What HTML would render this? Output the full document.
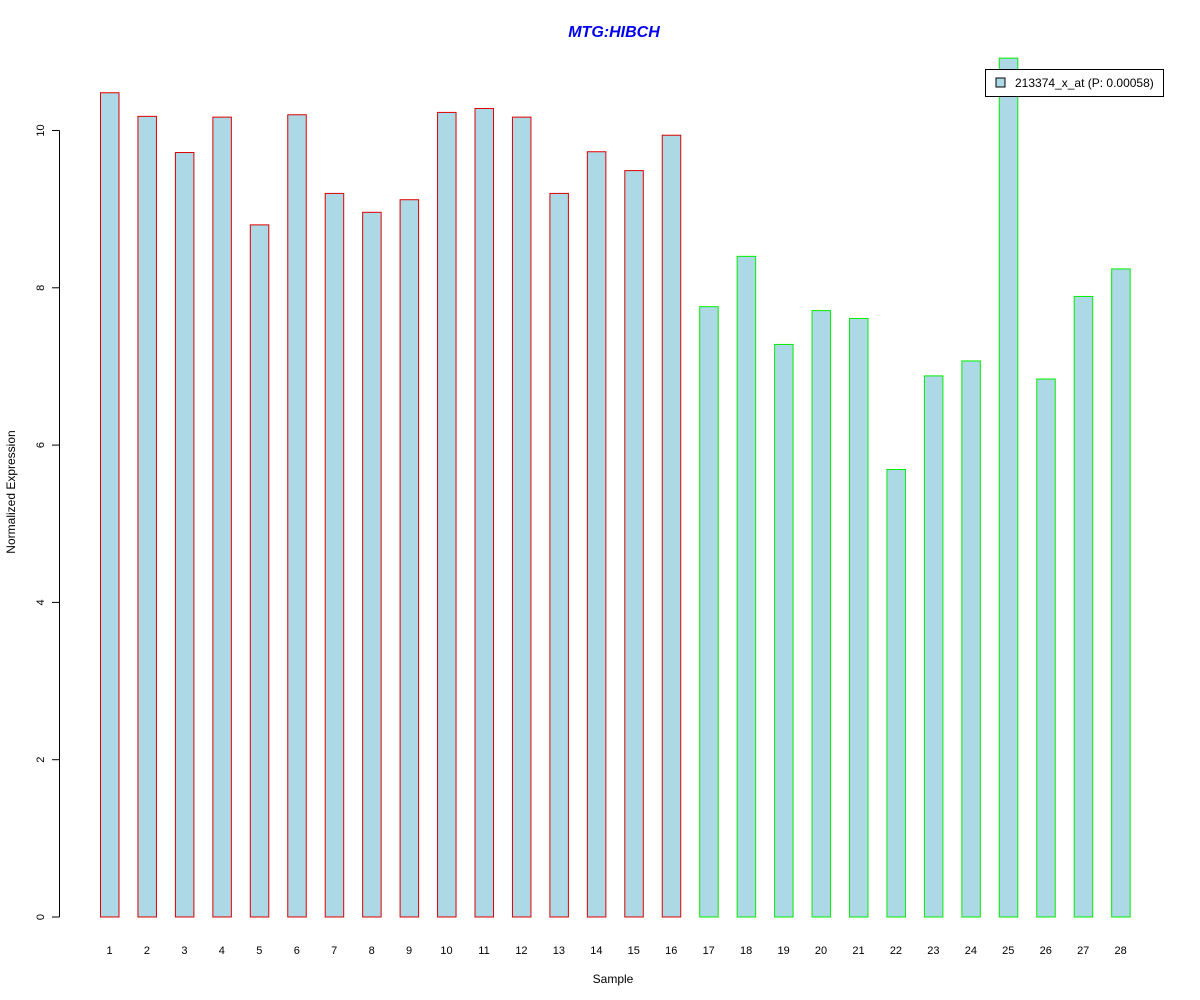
<!DOCTYPE html>
<html><head><meta charset="utf-8"><style>body{margin:0;background:#fff}svg{display:block}text{font-family:"Liberation Sans",Arial,sans-serif}</style></head>
<body>
<svg id="chart" width="1200" height="1000" xmlns="http://www.w3.org/2000/svg">
<text x="614" y="37" text-anchor="middle" font-size="16" font-weight="bold" font-style="italic" fill="#0000ee">MTG:HIBCH</text>
<text x="613" y="983" text-anchor="middle" font-size="12">Sample</text>
<text transform="translate(15,492) rotate(-90)" text-anchor="middle" font-size="12">Normalized Expression</text>
<g id="bars"></g><g id="axis"></g>
<g>
<rect x="985.5" y="69.5" width="178" height="27" fill="#fff" stroke="#000"/>
<rect x="996" y="78" width="9" height="9" fill="#add8e6" stroke="#000"/>
<text x="1015" y="87" font-size="12">213374_x_at (P: 0.00058)</text>
</g>
</svg>
<script>
const samples=[1,2,3,4,5,6,7,8,9,10,11,12,13,14,15,16,17,18,19,20,21,22,23,24,25,26,27,28];
const values=[10.48,10.18,9.72,10.17,8.80,10.20,9.20,8.96,9.12,10.23,10.28,10.17,9.20,9.73,9.49,9.94,7.76,8.40,7.28,7.71,7.61,5.69,6.88,7.07,10.92,6.84,7.89,8.24];
const groups=[0,0,0,0,0,0,0,0,0,0,0,0,0,0,0,0,1,1,1,1,1,1,1,1,1,1,1,1];
const yTicks=[0,2,4,6,8,10];
const NS="http://www.w3.org/2000/svg";
const y=v=>917-v*78.65;
const x=i=>109.5+i*37.45;
const bars=document.getElementById('bars');
values.forEach((v,i)=>{
 const r=document.createElementNS(NS,'rect');
 
 
 r.setAttribute('x',x(i)-9);r.setAttribute('width',18.5);
 r.setAttribute('y',y(v));r.setAttribute('height',917-y(v));
 r.setAttribute('fill','#add8e6');r.setAttribute('stroke',groups[i]?'#00ee00':'#dd0000');
 bars.appendChild(r);
 const t=document.createElementNS(NS,'text');
 
 
 t.setAttribute('x',x(i));t.setAttribute('y',954);t.setAttribute('text-anchor','middle');t.setAttribute('font-size','11');
 t.textContent=samples[i];bars.appendChild(t);
});
const ax=document.getElementById('axis');
const l=document.createElementNS(NS,'line');


l.setAttribute('x1',59.5);l.setAttribute('x2',59.5);l.setAttribute('y1',y(0));l.setAttribute('y2',y(10));l.setAttribute('stroke','#000');ax.appendChild(l);
yTicks.forEach(v=>{
 const tk=document.createElementNS(NS,'line');
 
 
 tk.setAttribute('x1',52);tk.setAttribute('x2',59.5);tk.setAttribute('y1',y(v));tk.setAttribute('y2',y(v));tk.setAttribute('stroke','#000');ax.appendChild(tk);
 const t=document.createElementNS(NS,'text');
 
 
 t.setAttribute('transform','translate(44,'+y(v)+') rotate(-90)');t.setAttribute('text-anchor','middle');t.setAttribute('font-size','11');
 t.textContent=v;ax.appendChild(t);
});
</script>
</body></html>
